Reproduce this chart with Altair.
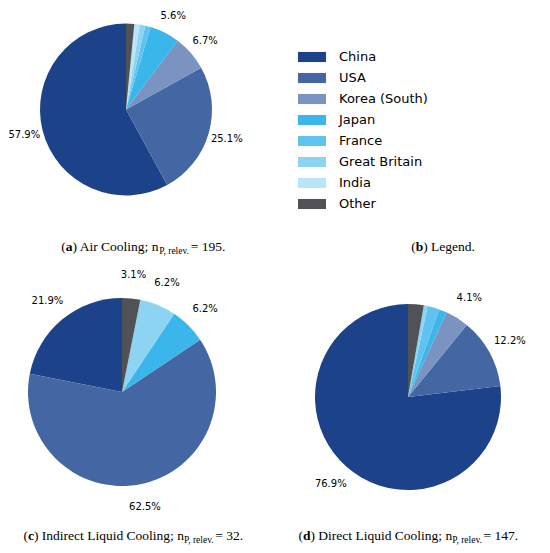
import altair as alt
import pandas as pd

# Countries in legend order and their colours
countries = ["China", "USA", "Korea (South)", "Japan", "France",
             "Great Britain", "India", "Other"]
colors = ["#1c428a", "#4467a3", "#7a93c0", "#3bb6ea", "#5ec3ef",
          "#8dd4f3", "#b8e5f8", "#505256"]

# Number of projects per country for each cooling type
air_counts = [113, 49, 13, 11, 2, 2, 2, 3]        # n = 195
indirect_counts = [7, 20, 0, 2, 0, 2, 0, 1]       # n = 32
direct_counts = [113, 18, 6, 2, 3, 1, 0, 4]       # n = 147

# Caption texts
captions = [
    ("a", "Air Cooling", "195"),
    ("c", "Indirect Liquid Cooling", "32"),
    ("d", "Direct Liquid Cooling", "147"),
]

SERIF = "Liberation Serif"
SANS = "DejaVu Sans"

# Rough Times metrics (per 1000 em) to lay out the captions piece by piece
TIMES = {" ": 250, "(": 333, ")": 333, ".": 250, ",": 250, ";": 278, "=": 564,
         "A": 722, "C": 667, "D": 722, "I": 333, "L": 611, "P": 556,
         "a": 444, "b": 500, "c": 444, "d": 500, "e": 444, "g": 500, "i": 278,
         "l": 278, "n": 500, "o": 500, "q": 500, "r": 333, "t": 278, "u": 500,
         "v": 500}
TIMES_BOLD = {"a": 500, "b": 556, "c": 444, "d": 556}


def text_width(s, size, bold=False):
    table = TIMES_BOLD if bold else TIMES
    return sum(table.get(ch, TIMES.get(ch, 500)) for ch in s) * size / 1000.0


legend = alt.Legend(
    orient="none", legendX=290, legendY=35, title=None,
    symbolType="M-1,-0.36H1V0.36H-1Z", symbolSize=784, symbolStrokeWidth=0,
    symbolOpacity=1, labelFont=SANS, labelFontSize=13, labelColor="#000",
    labelOffset=13, rowPadding=0, padding=0, labelLimit=300,
)


def pie(counts, cx, cy, r, label_at=1.25):
    df = pd.DataFrame({"country": countries, "idx": list(range(len(countries))),
                       "count": counts})
    base = (
        alt.Chart(df)
        .transform_joinaggregate(total="sum(count)")
        .transform_calculate(
            pct="datum.count / datum.total * 100",
            label="datum.pct >= 3 ? format(floor(datum.pct * 10 + 0.4999) / 10, '.1f') + '%' : ''",
        )
        .encode(
            theta=alt.Theta("pct:Q", stack=True),
            order=alt.Order("idx:Q", sort="descending"),
            x=alt.value(cx),
            y=alt.value(cy),
        )
    )
    arcs = base.mark_arc(outerRadius=r).encode(
        color=alt.Color("country:N", scale=alt.Scale(domain=countries, range=colors),
                        legend=legend)
    )
    labels = base.mark_text(radius=r * label_at, font=SANS, fontSize=10, color="#000").encode(
        text="label:N"
    )
    return [arcs, labels]


def text_piece(s, x, y, size, bold=False, dy=0):
    return (
        alt.Chart(pd.DataFrame({"t": [s]}))
        .mark_text(align="left", baseline="alphabetic", font=SERIF, fontSize=size,
                   fontWeight="bold" if bold else "normal", color="#000", dy=dy)
        .encode(text="t:N", x=alt.value(x), y=alt.value(y))
    )


def caption(letter, title, n, cx, y, size=13.5, sub_size=9.5):
    pieces = [("(", size, False, 0), (letter, size, True, 0)]
    if n is None:
        pieces.append((") " + title + ".", size, False, 0))
    else:
        pieces += [(") " + title + "; n", size, False, 0),
                   ("P, relev.", sub_size, False, 2.5),
                   (" = " + n + ".", size, False, 0)]
    total = sum(text_width(s, sz, b) for s, sz, b, _ in pieces)
    x = cx - total / 2
    out = []
    for s, sz, b, dy in pieces:
        out.append(text_piece(s, x, y, sz, b, dy))
        x += text_width(s, sz, b)
    return out


layers = []
layers += pie(air_counts, 118, 101.5, 86, label_at=1.22)
layers += pie(indirect_counts, 114, 384, 94)
layers += pie(direct_counts, 400, 389, 93)
layers += caption(*captions[0], cx=137, y=243)
layers += caption("b", "Legend", None, cx=435, y=243)
layers += caption(*captions[1], cx=127, y=532)
layers += caption(*captions[2], cx=402, y=532)

chart = (
    alt.layer(*layers)
    .properties(width=534, height=537, padding=0, autosize="none")
    .configure_view(stroke=None)
)

chart.save("out.html", embed_options={"renderer": "svg", "actions": False})
